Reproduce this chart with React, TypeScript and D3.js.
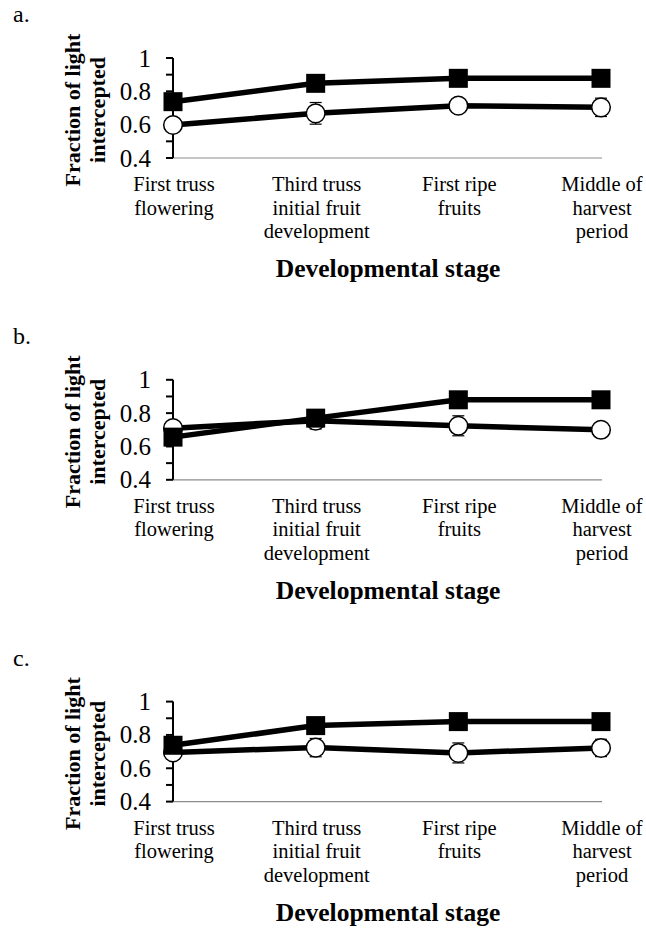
import React from "react";
import * as d3 from "d3";

// category labels, split into lines as in the figure
const stages = ["First truss", "Third truss", "First ripe", "Middle of"];
const stageLines = [
    ["First truss", "flowering"],
    ["Third truss", "initial fruit", "development"],
    ["First ripe", "fruits"],
    ["Middle of", "harvest", "period"],
];
const yTicks = [0.4, 0.6, 0.8, 1];
const yMinorTicks = [0.4, 0.5, 0.6, 0.7, 0.8, 0.9, 1];
const panelLabels = ["a.", "b.", "c."];

// filled squares
const squareA = [0.738, 0.848, 0.878, 0.878];
const squareB = [0.656, 0.77, 0.88, 0.88];
const squareC = [0.738, 0.856, 0.88, 0.88];
const squareErrA = [0.02, 0.02, 0.015, 0.015];
const squareErrB = [0.02, 0.02, 0.015, 0.015];
const squareErrC = [0.02, 0.02, 0.015, 0.015];

// open circles
const circleA = [0.598, 0.668, 0.714, 0.704];
const circleB = [0.71, 0.755, 0.724, 0.7];
const circleC = [0.695, 0.724, 0.692, 0.722];
const circleErrA = [0.02, 0.065, 0.02, 0.055];
const circleErrB = [0.03, 0.05, 0.06, 0.04];
const circleErrC = [0.03, 0.055, 0.06, 0.052];

const panels = [
    { sq: squareA, sqErr: squareErrA, ci: circleA, ciErr: circleErrA },
    { sq: squareB, sqErr: squareErrB, ci: circleB, ciErr: circleErrB },
    { sq: squareC, sqErr: squareErrC, ci: circleC, ciErr: circleErrC },
];

const W = 646;
const H = 944;
const font = "'Liberation Serif', 'Times New Roman', serif";

const x = d3.scalePoint<string>().domain(stages).range([173, 601]);

const Panel = ({ idx }: { idx: number }) => {
    const p = panels[idx];
    const top = 58 + idx * 321.8;
    const bottom = top + 100;
    const y = d3.scaleLinear().domain([0.4, 1]).range([bottom, top]);
    const line = d3
        .line<number>()
        .x((_, i) => x(stages[i]) as number)
        .y((d) => y(d));
    const x0 = x(stages[0]) as number;
    const cx = (x0 + (x(stages[3]) as number)) / 2;

    const errBars = (vals: number[], errs: number[], key: string) =>
        vals.map((v, i) => {
            const px = x(stages[i]) as number;
            return (
                <g key={key + i} stroke="#000" strokeWidth={1.2}>
                    <line x1={px} x2={px} y1={y(v - errs[i])} y2={y(v + errs[i])} />
                    <line x1={px - 6} x2={px + 6} y1={y(v - errs[i])} y2={y(v - errs[i])} />
                    <line x1={px - 6} x2={px + 6} y1={y(v + errs[i])} y2={y(v + errs[i])} />
                </g>
            );
        });

    return (
        <g>
            <text x={13} y={top - 36} fontSize={24} fontFamily={font}>
                {panelLabels[idx]}
            </text>

            {/* x axis (grey) */}
            <line x1={x0} x2={602} y1={bottom} y2={bottom} stroke="#8c8c8c" strokeWidth={1.2} />

            {/* y axis */}
            <line x1={x0} x2={x0} y1={top} y2={bottom} stroke="#000" strokeWidth={2} />
            {yMinorTicks.map((t) => (
                <line key={t} x1={x0 - 7} x2={x0} y1={y(t)} y2={y(t)} stroke="#000" strokeWidth={2} />
            ))}
            {yTicks.map((t) => (
                <text
                    key={t}
                    x={151}
                    y={y(t)}
                    dy="0.34em"
                    textAnchor="end"
                    fontSize={25}
                    fontFamily={font}
                >
                    {t === 1 ? "1" : d3.format(".1f")(t)}
                </text>
            ))}

            {/* y title */}
            <text
                transform={`translate(80,${(top + bottom) / 2 + 2}) rotate(-90)`}
                textAnchor="middle"
                fontSize={22}
                fontWeight="bold"
                fontFamily={font}
            >
                Fraction of light
            </text>
            <text
                transform={`translate(105,${(top + bottom) / 2 + 2}) rotate(-90)`}
                textAnchor="middle"
                fontSize={22}
                fontWeight="bold"
                fontFamily={font}
            >
                intercepted
            </text>

            {/* category labels */}
            {stageLines.map((lines, i) =>
                lines.map((s, j) => (
                    <text
                        key={i + "-" + j}
                        x={(x(stages[i]) as number) + 1}
                        y={bottom + 33 + j * 23.5}
                        textAnchor="middle"
                        fontSize={20.5}
                        fontFamily={font}
                    >
                        {s}
                    </text>
                ))
            )}

            {/* x title */}
            <text
                x={cx + 1}
                y={bottom + 119}
                textAnchor="middle"
                fontSize={25.5}
                fontWeight="bold"
                fontFamily={font}
            >
                Developmental stage
            </text>

            {errBars(p.ci, p.ciErr, "ce")}
            {errBars(p.sq, p.sqErr, "se")}

            <path d={line(p.ci) as string} fill="none" stroke="#000" strokeWidth={5.5} />
            <path d={line(p.sq) as string} fill="none" stroke="#000" strokeWidth={5.5} />

            {p.ci.map((v, i) => (
                <circle
                    key={"c" + i}
                    cx={x(stages[i]) as number}
                    cy={y(v)}
                    r={9.3}
                    fill="#fff"
                    stroke="#000"
                    strokeWidth={1.5}
                />
            ))}
            {p.sq.map((v, i) => (
                <rect
                    key={"s" + i}
                    x={(x(stages[i]) as number) - 9.5}
                    y={y(v) - 9.5}
                    width={19}
                    height={19}
                    fill="#000"
                />
            ))}
        </g>
    );
};

const App = () => (
    <svg
        width={W}
        height={H}
        style={{ position: "absolute", left: 0, top: 0, background: "#fff" }}
    >
        <rect width={W} height={H} fill="#fff" />
        {panels.map((_, i) => (
            <Panel key={i} idx={i} />
        ))}
    </svg>
);

export default App;
